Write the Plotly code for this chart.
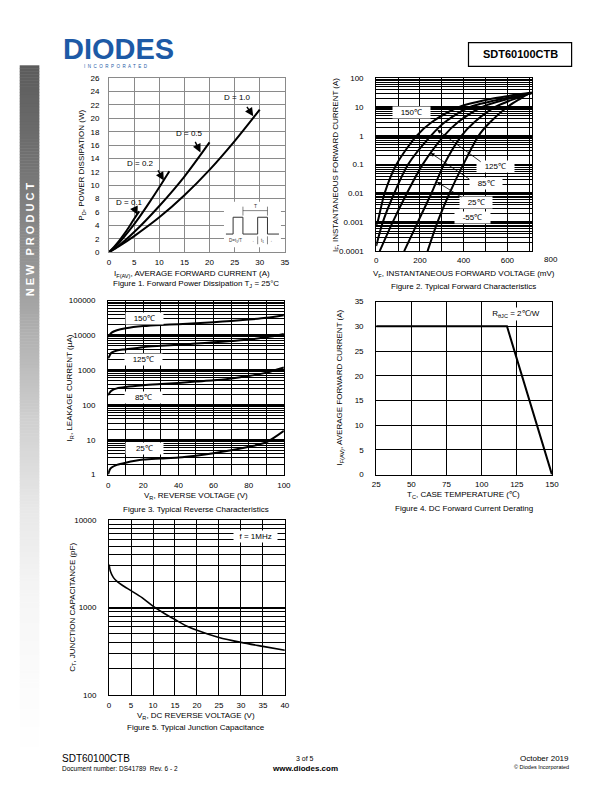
import plotly.graph_objects as go

W, H = 612, 792
FONT = "Liberation Sans, Arial, sans-serif"

# ---------------- data ----------------
# Figure 1: forward power dissipation (A -> W)
f1_i_d01 = [0, 1, 2, 3, 4, 5, 6]
f1_p_d01 = [0, 0.8, 1.7, 2.7, 3.8, 5.0, 6.1]
f1_i_d02 = [0, 2, 4, 6, 8, 10, 12]
f1_p_d02 = [0, 1.4, 3.2, 5.2, 7.4, 9.7, 12.1]
f1_i_d05 = [0, 2, 5, 10, 15, 20]
f1_p_d05 = [0, 1.0, 3.0, 6.9, 11.3, 16.4]
f1_i_d10 = [0, 2, 5, 10, 15, 20, 25, 30]
f1_p_d10 = [0, 0.9, 2.4, 5.2, 8.5, 12.3, 16.6, 21.3]
f1_labels = ["D = 0.1", "D = 0.2", "D = 0.5", "D = 1.0"]
f1_xticks = [0, 5, 10, 15, 20, 25, 30, 35]
f1_yticks = [0, 2, 4, 6, 8, 10, 12, 14, 16, 18, 20, 22, 24, 26]

# Figure 2: forward characteristics (mV, A)
f2_i_150 = [8e-4, 1e-3, 1e-2, 1e-1, 1, 3, 10, 20, 32]
f2_v_150 = [0, 6, 38, 92, 185, 255, 380, 540, 720]
f2_i_125 = [1.5e-4, 1e-3, 1e-2, 1e-1, 1, 3, 10, 20, 31]
f2_v_125 = [0, 30, 82, 145, 250, 315, 430, 590, 715]
f2_i_85 = [1e-4, 1e-3, 1e-2, 1e-1, 1, 3, 10, 20, 30]
f2_v_85 = [16, 75, 140, 212, 310, 375, 485, 615, 712]
f2_i_25 = [1e-4, 1e-3, 1e-2, 1e-1, 1, 3, 10, 20, 30]
f2_v_25 = [128, 190, 252, 310, 390, 450, 545, 640, 705]
f2_i_m55 = [1e-4, 1e-3, 1e-2, 1e-1, 1, 3, 10, 20, 30]
f2_v_m55 = [235, 280, 335, 398, 468, 522, 600, 662, 700]
f2_xticks = [0, 100, 200, 300, 400, 500, 600, 700]
f2_xticktext = ["0", "", "200", "", "400", "", "600", ""]
f2_yticks = [1e-4, 1e-3, 1e-2, 1e-1, 1, 10, 100]
f2_yticktext = ["0.0001", "0.001", "0.01", "0.1", "1", "10", "100"]
f2_labels = ["150℃", "125℃", "85℃", "25℃", "-55℃"]

# Figure 3: reverse characteristics (V, uA)
f3_v = [0, 1, 2, 5, 10, 20, 30, 40, 50, 60, 70, 80, 90, 100]
f3_i_150 = [9000, 10500, 12000, 14000, 16000, 18500, 20000, 21000, 22500, 24000, 26000, 28500, 32000, 38000]
f3_i_125 = [2200, 2700, 3200, 3700, 4000, 4600, 5000, 5400, 5800, 6300, 6900, 7600, 8800, 11000]
f3_i_85 = [190, 230, 260, 300, 330, 370, 400, 430, 470, 510, 580, 680, 850, 1200]
f3_i_25 = [1.0, 1.4, 1.6, 1.9, 2.2, 2.7, 2.9, 3.1, 3.5, 4.1, 5.0, 6.3, 8.5, 18]
f3_xticks = [0, 10, 20, 30, 40, 50, 60, 70, 80, 90, 100]
f3_xticktext = ["0", "", "20", "", "40", "", "60", "", "80", "", "100"]
f3_yticks = [1, 10, 100, 1000, 10000, 100000]
f3_yticktext = ["1", "10", "100", "1000", "10000", "100000"]
f3_labels = ["150℃", "125℃", "85℃", "25℃"]

# Figure 4: derating (degC, A)
f4_t = [25, 118, 150]
f4_i = [30, 30, 0]
f4_xticks = [25, 50, 75, 100, 125, 150]
f4_yticks = [0, 5, 10, 15, 20, 25, 30, 35]

# Figure 5: junction capacitance (V, pF)
f5_v = [0, 0.3, 1, 2, 3, 5, 7.5, 10, 12.5, 15, 17.5, 20, 25, 30, 35, 40]
f5_c = [3100, 2600, 2200, 1950, 1800, 1560, 1300, 1040, 860, 730, 620, 550, 455, 400, 360, 325]
f5_xticks = [0, 5, 10, 15, 20, 25, 30, 35, 40]
f5_yticks = [100, 1000, 10000]
f5_yticktext = ["100", "1000", "10000"]


def minor_vals(lo_exp, hi_exp):
    out = []
    for e in range(lo_exp, hi_exp):
        for m in range(2, 10):
            out.append(m * 10 ** e)
    return out


def X(px):
    return px / W


def Y(py):
    return 1 - py / H


fig = go.Figure()


def line(x, y, ax, width=2, shape="spline"):
    fig.add_trace(go.Scatter(x=x, y=y, mode="lines", xaxis=ax[0], yaxis=ax[1],
                             line=dict(color="black", width=width, shape=shape, smoothing=0.8),
                             showlegend=False, hoverinfo="skip"))


line(f1_i_d01, f1_p_d01, ("x", "y"))
line(f1_i_d02, f1_p_d02, ("x", "y"))
line(f1_i_d05, f1_p_d05, ("x", "y"))
line(f1_i_d10, f1_p_d10, ("x", "y"))

for v, i in [(f2_v_150, f2_i_150), (f2_v_125, f2_i_125), (f2_v_85, f2_i_85),
             (f2_v_25, f2_i_25), (f2_v_m55, f2_i_m55)]:
    line(v, i, ("x2", "y2"))

for i in [f3_i_150, f3_i_125, f3_i_85, f3_i_25]:
    line(f3_v, i, ("x3", "y3"))

line(f4_t, f4_i, ("x4", "y4"), shape="linear")
line(f5_v, f5_c, ("x5", "y5"), width=1.6)

tickfont = dict(family=FONT, size=8, color="black")


def axis(dom, **kw):
    d = dict(domain=dom, showline=True, mirror=True, linecolor="black", linewidth=1,
             ticks="", showgrid=True, gridcolor="black", gridwidth=1, zeroline=False,
             tickfont=tickfont, fixedrange=True)
    d.update(kw)
    return d


layout = dict(
    width=W, height=H, margin=dict(l=0, r=0, t=0, b=0),
    paper_bgcolor="white", plot_bgcolor="white", showlegend=False,
    # Fig 1
    xaxis=axis([X(107), X(286)], anchor="y", range=[0, 35], tickmode="array", tickvals=f1_xticks,
               gridcolor="#8a8a8a", linecolor="#8a8a8a", ticklabelstandoff=2),
    yaxis=axis([Y(251), Y(75)], anchor="x", range=[0, 26], tickmode="array", tickvals=f1_yticks,
               gridcolor="#8a8a8a", linecolor="#8a8a8a", ticklabelstandoff=7),
    # Fig 2
    xaxis2=axis([X(379), X(537.5)], anchor="y2", range=[0, 712], tickmode="array",
                tickvals=f2_xticks, ticktext=f2_xticktext, ticklabelstandoff=1),
    yaxis2=axis([Y(250), Y(75)], anchor="x2", type="log", range=[-4, 2], tickmode="array",
                tickvals=f2_yticks, ticktext=f2_yticktext, gridwidth=2, ticklabelstandoff=10,
                minor=dict(tickmode="array", tickvals=minor_vals(-4, 2), showgrid=True,
                           gridcolor="black", gridwidth=1)),
    # Fig 3
    xaxis3=axis([X(106), X(285)], anchor="y3", range=[0, 100], tickmode="array",
                tickvals=f3_xticks, ticktext=f3_xticktext, ticklabelstandoff=3),
    yaxis3=axis([Y(476), Y(300)], anchor="x3", type="log", range=[0, 5], tickmode="array",
                tickvals=f3_yticks, ticktext=f3_yticktext, gridwidth=2, ticklabelstandoff=10,
                minor=dict(tickmode="array", tickvals=minor_vals(0, 5), showgrid=True,
                           gridcolor="black", gridwidth=1)),
    # Fig 4
    xaxis4=axis([X(379), X(558)], anchor="y4", range=[25, 150], tickmode="array",
                tickvals=f4_xticks, ticklabelstandoff=2),
    yaxis4=axis([Y(476), Y(301)], anchor="x4", range=[0, 35], tickmode="array",
                tickvals=f4_yticks, ticklabelstandoff=10),
    # Fig 5
    xaxis5=axis([X(107), X(286)], anchor="y5", range=[0, 40], tickmode="array",
                tickvals=f5_xticks, ticklabelstandoff=2),
    yaxis5=axis([Y(699), Y(522)], anchor="x5", type="log", range=[2, 4], tickmode="array",
                tickvals=f5_yticks, ticktext=f5_yticktext, gridwidth=1.5, ticklabelstandoff=10,
                minor=dict(tickmode="array", tickvals=minor_vals(2, 4), showgrid=True,
                           gridcolor="black", gridwidth=1)),
)

ann = []
shapes = []


def txt(px, py, text, size=8, color="black", bold=False, angle=0, xanchor="center",
        bg=None, family=FONT, pad=1):
    t = "<b>%s</b>" % text if bold else text
    d = dict(x=X(px), y=Y(py), xref="paper", yref="paper", text=t, showarrow=False,
             font=dict(family=family, size=size, color=color), xanchor=xanchor,
             yanchor="middle", textangle=angle)
    if bg:
        d.update(bgcolor=bg, borderpad=pad)
    ann.append(d)


def arrow(x, y, axp, ayp, xref, yref, width=1.0, size=1.0):
    ann.append(dict(x=x, y=y, xref=xref, yref=yref, ax=axp, ay=ayp, text="",
                    showarrow=True, arrowhead=2, arrowsize=size, arrowwidth=width,
                    arrowcolor="black"))


# ---- sidebar gradient ----
grad = [(62, 92), (150, 112), (240, 140), (330, 176), (420, 208), (510, 232),
        (600, 246), (700, 252), (760, 255)]
step = 3
py = 62
while py < 760:
    for k in range(len(grad) - 1):
        if grad[k][0] <= py < grad[k + 1][0]:
            y0, g0 = grad[k]
            y1, g1 = grad[k + 1]
            g = int(round(g0 + (g1 - g0) * (py - y0) / (y1 - y0)))
            break
    shapes.append(dict(type="rect", xref="paper", yref="paper", x0=X(16), x1=X(36),
                       y0=Y(py + step + 0.5), y1=Y(py), line=dict(width=0),
                       fillcolor="rgb(%d,%d,%d)" % (g, g, g), layer="below"))
    py += step
txt(26.5, 238, "N E W   P R O D U C T", size=11, color="white", bold=True, angle=-90)

# ---- header ----
txt(58, 46, "DIODES", size=29, color="#1d5aa6", bold=True, xanchor="left")
txt(114, 63.5, "I  N  C  O  R  P  O  R  A  T  E  D", size=4.5, color="#1d5aa6")
shapes.append(dict(type="rect", xref="paper", yref="paper", x0=X(473), x1=X(578),
                   y0=Y(63), y1=Y(39), line=dict(color="black", width=1.2)))
txt(525.5, 51, "SDT60100CTB", size=11, bold=True)

# ---- footer ----
txt(57, 763, "SDT60100CTB", size=10, xanchor="left")
txt(57, 773, "Document number: DS41789  Rev. 6 - 2", size=6.5, xanchor="left")
txt(306, 763, "3 of 5", size=7)
txt(306, 773, "www.diodes.com", size=8, bold=True)
txt(577, 763, "October 2019", size=8, xanchor="right")
txt(577, 772, "© Diodes Incorporated", size=5.5, xanchor="right")

# ---- figure 1 ----
txt(80, 163, "P<sub>D</sub>, POWER DISSIPATION (W)", angle=-90)
txt(191, 273, "I<sub>F(AV)</sub>, AVERAGE FORWARD CURRENT (A)")
txt(196, 283, "Figure 1. Forward Power Dissipation T<sub>J</sub> = 25°C")
txt(127.5, 201, f1_labels[0])
txt(139, 161, f1_labels[1])
txt(189, 131, f1_labels[2])
txt(237.5, 95, f1_labels[3])
arrow(5.66, 5.57, -3.3, -7, "x", "y", width=1.4, size=1.2)
arrow(10.9, 10.7, -6.7, -11.6, "x", "y", width=1.4, size=1.2)
arrow(18.2, 14.9, -6, -12, "x", "y", width=1.4, size=1.2)
arrow(28.7, 20.3, -7.3, -11, "x", "y", width=1.4, size=1.2)

# inset waveform
shapes.append(dict(type="rect", xref="paper", yref="paper", x0=X(224), x1=X(282),
                   y0=Y(246), y1=Y(200), line=dict(width=0), fillcolor="white"))
wave = [(226, 232.7), (233.3, 232.7), (233.3, 215.7), (243.3, 215.7), (243.3, 232.7),
        (258.3, 232.7), (258.3, 215.7), (268.3, 215.7), (268.3, 232.7), (280, 232.7)]
path = "M " + " L ".join("%f,%f" % (X(a), Y(b)) for a, b in wave)
shapes.append(dict(type="path", xref="paper", yref="paper", path=path,
                   line=dict(color="#333333", width=1)))
for a in (243.3, 268.3):
    shapes.append(dict(type="line", xref="paper", yref="paper", x0=X(a), x1=X(a),
                       y0=Y(214), y1=Y(205), line=dict(color="#333333", width=0.6)))
shapes.append(dict(type="line", xref="paper", yref="paper", x0=X(243.3), x1=X(268.3),
                   y0=Y(209), y1=Y(209), line=dict(color="#333333", width=0.6)))
txt(256, 204.5, "T", size=5, color="#333333")
for a in (258.3, 268.3):
    shapes.append(dict(type="line", xref="paper", yref="paper", x0=X(a), x1=X(a),
                       y0=Y(243), y1=Y(235), line=dict(color="#333333", width=0.6)))
txt(236, 239.5, "D=t<sub>1</sub>/T", size=4.5, color="#333333")
txt(263.3, 239.5, "t<sub>1</sub>", size=4.5, color="#333333")
txt(253.5, 239.5, "→", size=4.5, color="#333333")
txt(273, 239.5, "←", size=4.5, color="#333333")

# ---- figure 2 ----
txt(338, 163, "I<sub>F</sub>, INSTANTANEOUS FORWARD CURRENT (A)", angle=-90)
txt(468, 273, "V<sub>F</sub>, INSTANTANEOUS FORWARD VOLTAGE (mV)")
txt(468, 286, "Figure 2. Typical Forward Characteristics")
ann.append(dict(x=800 / 712, y=Y(258.5), xref="x2 domain", yref="paper", text="800",
                showarrow=False, font=tickfont, xanchor="center", yanchor="middle"))
txt(415, 109.5, "   " + f2_labels[0] + "   ", bg="white")
txt(501, 164, "   " + f2_labels[1] + "   ", bg="white")
txt(491, 182, "   " + f2_labels[2] + "   ", bg="white")
txt(481, 200.5, "   " + f2_labels[3] + "   ", bg="white")
txt(477, 216, "   " + f2_labels[4] + "   ", bg="white")
arrow(279, 0.207, 45, 33, "x2", "y2", width=0.8)
arrow(249, -0.595, 40, 27, "x2", "y2", width=0.8)
arrow(278, -1.6, 26, 16, "x2", "y2", width=0.8)

# ---- figure 3 ----
txt(67, 388, "I<sub>R</sub>, LEAKAGE CURRENT (µA)", angle=-90)
txt(196, 498, "V<sub>R</sub>, REVERSE VOLTAGE (V)")
txt(196, 511, "Figure 3. Typical Reverse Characteristics")
txt(143, 318.5, "   " + f3_labels[0] + "   ", bg="white")
txt(142, 360, "   " + f3_labels[1] + "   ", bg="white")
txt(142, 398, "    " + f3_labels[2] + "    ", bg="white")
txt(143, 449.5, "    " + f3_labels[3] + "    ", bg="white")

# ---- figure 4 ----
txt(342, 388, "I<sub>F(AV)</sub>, AVERAGE FORWARD CURRENT (A)", angle=-90)
txt(468, 497, "T<sub>C</sub>, CASE TEMPERATURE (℃)")
txt(468, 510, "Figure 4. DC Forward Current Derating")
txt(521, 313.5, " R<sub>θJC</sub> = 2℃/W ", bg="white")

# ---- figure 5 ----
txt(70, 610, "C<sub>T</sub>, JUNCTION CAPACITANCE (pF)", angle=-90)
txt(196, 720.5, "V<sub>R</sub>, DC REVERSE VOLTAGE (V)")
txt(196, 732, "Figure 5. Typical Junction Capacitance")
txt(256, 539, "  f = 1MHz  ", bg="white")

layout["annotations"] = ann
layout["shapes"] = shapes
fig.update_layout(**layout)
fig.write_html(
    "out.html",
    config={"displayModeBar": False},
    post_script="document.body.style.margin='0px';document.body.style.padding='0px';"
                "document.documentElement.style.overflow='hidden';",
)
